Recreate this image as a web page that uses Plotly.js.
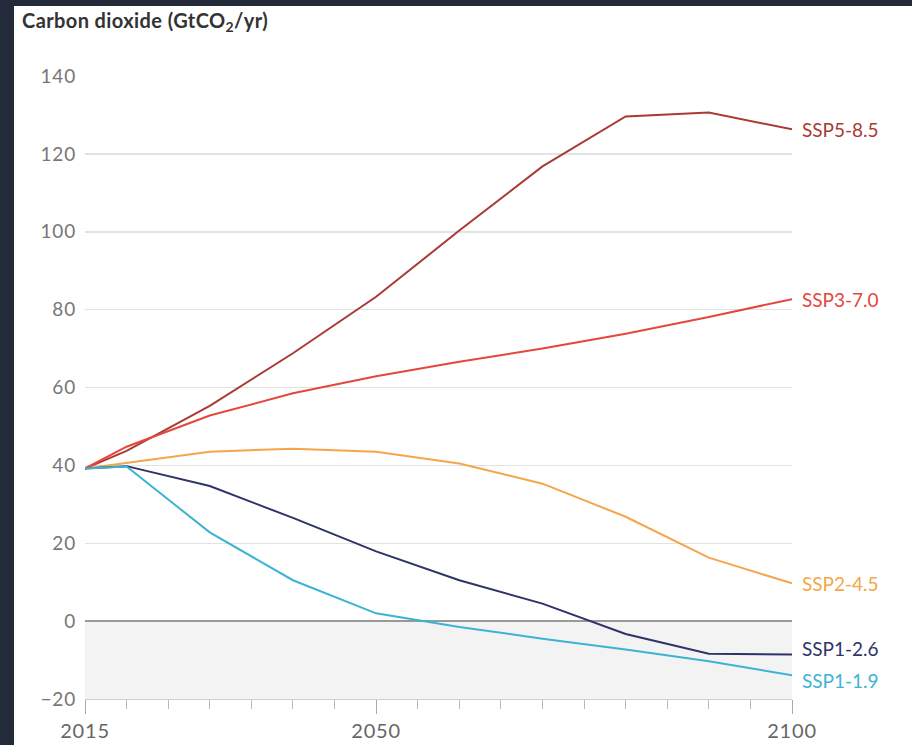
<!DOCTYPE html>
<html>
<head>
<meta charset="utf-8">
<script src="https://cdn.plot.ly/plotly-3.0.1.min.js"></script>
<style>
html,body{margin:0;padding:0;background:#232b3a;width:912px;height:745px;overflow:hidden;}
#chart{position:absolute;left:14px;top:6px;width:898px;height:739px;background:#fff;}
#chart .gtitle{letter-spacing:0.4px;}
#chart .xtick text, #chart .ytick text{letter-spacing:0.8px;}
</style>
</head>
<body>
<div id="chart"></div>
<script>
const years = [2015, 2020, 2030, 2040, 2050, 2060, 2070, 2080, 2090, 2100];
const ssp585 = [39.2, 43.7, 55.3, 68.8, 83.3, 100.3, 116.8, 129.6, 130.6, 126.3];
const ssp370 = [39.2, 44.8, 52.8, 58.5, 62.9, 66.6, 70.0, 73.8, 78.1, 82.7];
const ssp245 = [39.2, 40.6, 43.5, 44.3, 43.5, 40.5, 35.3, 26.8, 16.3, 9.7];
const ssp126 = [39.2, 39.8, 34.7, 26.5, 17.9, 10.5, 4.5, -3.3, -8.4, -8.6];
const ssp119 = [39.2, 39.7, 22.8, 10.5, 2.0, -1.5, -4.5, -7.3, -10.3, -13.9];
const names = ["SSP5-8.5", "SSP3-7.0", "SSP2-4.5", "SSP1-2.6", "SSP1-1.9"];
const xTicks = [2015, 2050, 2100];
const yTicks = [-20, 0, 20, 40, 60, 80, 100, 120, 140];
const yTickText = ["\u221220", "0", "20", "40", "60", "80", "100", "120", "140"];

const series = [ssp585, ssp370, ssp245, ssp126, ssp119];
const colors = ["#a93a34", "#e4473d", "#f5a54a", "#2e3368", "#3ab4d4"];
const labelShift = [0, 0, 0, 6, -5];

const traces = series.map((s, i) => ({
  x: years, y: s, type: "scatter", mode: "lines", name: names[i],
  line: {color: colors[i], width: 2}, hoverinfo: "skip"
}));

const annotations = series.map((s, i) => ({
  x: years[years.length - 1], y: s[s.length - 1], xref: "x", yref: "y",
  text: names[i], showarrow: false, xanchor: "left", yanchor: "middle",
  xshift: 8, yshift: labelShift[i],
  font: {family: "Lato, sans-serif", size: 19, color: colors[i]}
}));

const layout = {
  width: 898, height: 739,
  margin: {l: 71, r: 120, t: 70, b: 46},
  paper_bgcolor: "#fff", plot_bgcolor: "rgba(0,0,0,0)",
  showlegend: false,
  title: {
    text: "<b>Carbon dioxide (GtCO<sub>2</sub>/yr)</b>",
    xref: "container", yref: "container", x: 8/898, xanchor: "left",
    y: 1 - 15/739, yanchor: "middle",
    font: {family: "Lato, sans-serif", size: 20, color: "#333"}
  },
  xaxis: {
    range: [2015, 2100], tickvals: xTicks, ticktext: xTicks.map(String),
    showgrid: false, zeroline: false,
    showline: true, linecolor: "#d0d0d0", linewidth: 1,
    ticks: "outside", ticklen: 14, tickcolor: "#aaa", tickwidth: 1,
    minor: {tick0: 2015, dtick: 5, ticks: "outside", ticklen: 9, tickcolor: "#bbb", tickwidth: 1, showgrid: false},
    tickfont: {family: "Lato, sans-serif", size: 20, color: "#666"},
    fixedrange: true
  },
  yaxis: {
    range: [-20, 140], tickvals: yTicks, ticktext: yTickText,
    showgrid: true, gridcolor: "#e2e2e2", gridwidth: 1.5,
    zeroline: true, zerolinecolor: "#999", zerolinewidth: 1.5,
    showline: false, ticks: "", ticklabelstandoff: 8,
    tickfont: {family: "Lato, sans-serif", size: 19, color: "#777"},
    fixedrange: true
  },
  shapes: [{
    type: "rect", xref: "x", yref: "y", x0: 2015, x1: 2100, y0: -20, y1: 0,
    fillcolor: "#f3f3f3", line: {width: 0}, layer: "below"
  }],
  annotations: annotations
};

Plotly.newPlot("chart", traces, layout, {displayModeBar: false, staticPlot: true});
</script>
</body>
</html>
